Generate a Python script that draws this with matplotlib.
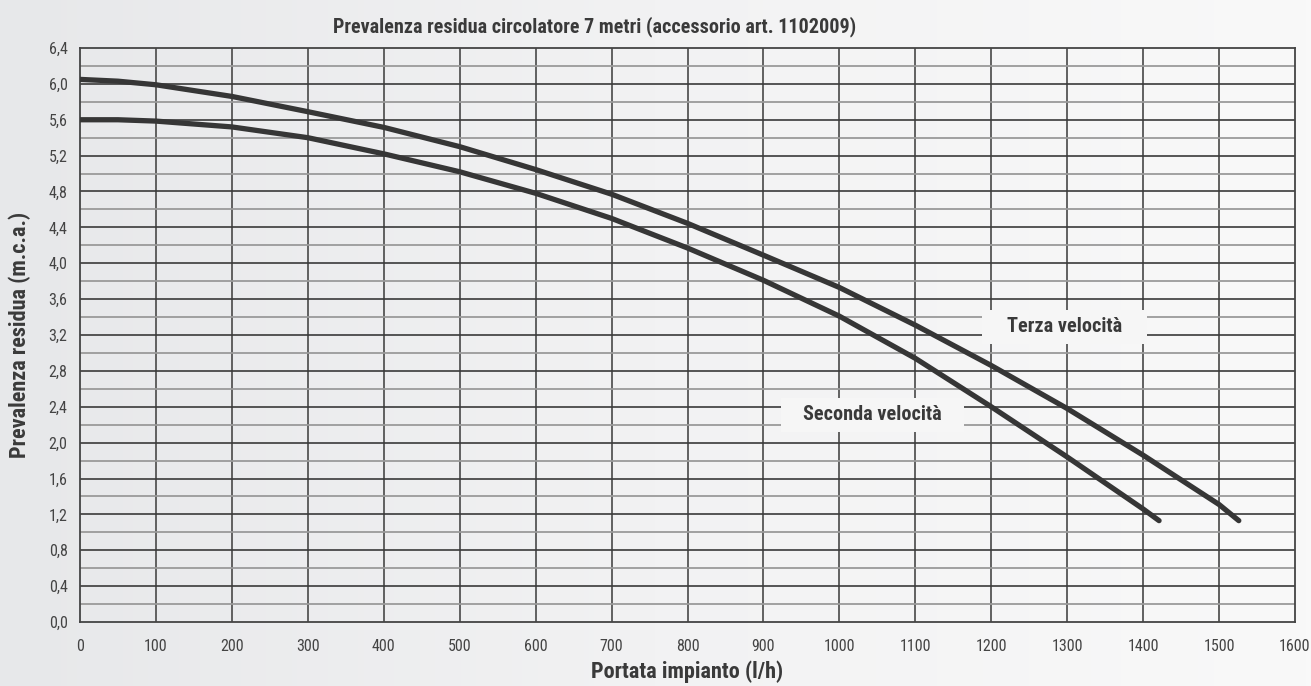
import numpy as np
import matplotlib
matplotlib.use("Agg")
import matplotlib.pyplot as plt
from matplotlib import font_manager as fm
from matplotlib.colors import LinearSegmentedColormap
from matplotlib.patches import Rectangle

# ---- data ----
x_terza = [0, 50, 100, 200, 300, 400, 500, 600, 700, 800, 900, 1000, 1100, 1200, 1300, 1400, 1500, 1526]
y_terza = [6.05, 6.03, 5.99, 5.86, 5.69, 5.515, 5.30, 5.045, 4.77, 4.445, 4.09, 3.73, 3.31, 2.86, 2.38, 1.86, 1.31, 1.13]
x_seconda = [0, 50, 100, 200, 300, 400, 500, 600, 700, 800, 900, 1000, 1100, 1200, 1300, 1400, 1421]
y_seconda = [5.60, 5.60, 5.585, 5.52, 5.40, 5.22, 5.02, 4.78, 4.50, 4.17, 3.81, 3.41, 2.94, 2.40, 1.84, 1.26, 1.13]
x_ticks = list(range(0, 1601, 100))
y_ticks = [round(0.4 * i, 1) for i in range(17)]
y_tick_labels = [f"{v:.1f}".replace(".", ",") for v in y_ticks]
title = "Prevalenza residua circolatore 7 metri (accessorio art. 1102009)"
xlabel = "Portata impianto (l/h)"
ylabel = "Prevalenza residua (m.c.a.)"
label_terza = "Terza velocità"
label_seconda = "Seconda velocità"

# ---- font selection: prefer a condensed / narrow sans ----
def find_font(bold):
    prefs = ["robotocondensed", "roboto_condensed", "liberationsansnarrow",
             "opensanscondensed", "opensans_condensed", "notosanscondensed",
             "notosans-condensed", "dejavusanscondensed", "condensed", "narrow"]
    files = [f.fname for f in fm.fontManager.ttflist]
    for p in prefs:
        for fn in files:
            base = fn.replace("\\", "/").split("/")[-1].lower()
            key = base.replace(" ", "")
            if p not in key:
                continue
            if "italic" in key or "oblique" in key:
                continue
            isbold = "bold" in key and "semibold" not in key and "extrabold" not in key
            if bold and isbold:
                return fn
            if not bold and not any(w in key for w in ["bold", "light", "thin", "medium", "black", "semi", "extra"]):
                return fn
    return None

fb = find_font(True)
fr = find_font(False)
if fb and fr:
    FB = fm.FontProperties(fname=fb)
    FR = fm.FontProperties(fname=fr)
    scale = 1.0
else:
    FB = fm.FontProperties(family="Roboto", weight="bold")
    FR = fm.FontProperties(family="Roboto")
    scale = 0.85

def fp(base, size):
    p = base.copy()
    p.set_size(size * scale)
    return p

fig = plt.figure(figsize=(13.11, 6.86), dpi=100)

# background gradient
bg = fig.add_axes([0, 0, 1, 1], zorder=-10)
grad = np.linspace(0, 1, 256).reshape(1, -1)
cmap = LinearSegmentedColormap.from_list("bg", ["#e7e8ea", "#f2f2f3", "#f9f9f9"])
bg.imshow(grad, aspect="auto", cmap=cmap, extent=[0, 1, 0, 1])
bg.axis("off")

W, H = 1311, 686
ax = fig.add_axes([80 / W, 1 - 622 / H, (1295 - 80) / W, (622 - 48) / H])
ax.patch.set_alpha(0)
ax.set_xlim(0, 1600)
ax.set_ylim(0, 6.4)

# grid
for xv in x_ticks[1:-1]:
    ax.axvline(xv, color="#555555", lw=1.3, zorder=1)
for i in range(1, 32):
    yv = 0.2 * i
    if i % 2 == 0:
        ax.axhline(yv, color="#3a3a3a", lw=1.2, zorder=1)
    else:
        ax.axhline(yv, color="#9a9a9a", lw=1.3, zorder=1)
for s in ax.spines.values():
    s.set_color("#444444")
    s.set_linewidth(1.3)

ax.plot(x_terza, y_terza, color="#363636", lw=3.8, solid_capstyle="round", solid_joinstyle="round", zorder=3)
ax.plot(x_seconda, y_seconda, color="#363636", lw=3.8, solid_capstyle="round", solid_joinstyle="round", zorder=3)

ax.set_xticks(x_ticks)
ax.set_xticklabels([str(v) for v in x_ticks], fontproperties=fp(FR, 11.5), color="#444444")
ax.set_yticks(y_ticks)
ax.set_yticklabels(y_tick_labels, fontproperties=fp(FR, 11.5), color="#444444")
ax.tick_params(axis="x", length=0, pad=12)
ax.tick_params(axis="y", length=0, pad=9)

ax.set_xlabel(xlabel, fontproperties=fp(FB, 16), color="#3a3a3a", labelpad=5)
ax.set_ylabel(ylabel, fontproperties=fp(FB, 16), color="#3a3a3a", labelpad=13)

fig.text(595 / W, 1 - 27 / H, title, ha="center", va="center", fontproperties=fp(FB, 14.5),
         color="#3a3a3a")

# label boxes (cover the grid)
ax.add_patch(Rectangle((1188, 3.10), 217, 0.38, fc="#f6f6f6", ec="none", zorder=2))
ax.add_patch(Rectangle((923, 2.12), 241, 0.38, fc="#f6f6f6", ec="none", zorder=2))
ax.text(1296, 3.29, label_terza, ha="center", va="center", fontproperties=fp(FB, 14.6),
        color="#3a3a3a", zorder=2.5)
ax.text(1043, 2.31, label_seconda, ha="center", va="center", fontproperties=fp(FB, 14.6),
        color="#3a3a3a", zorder=2.5)

fig.savefig("out.png", dpi=100)
